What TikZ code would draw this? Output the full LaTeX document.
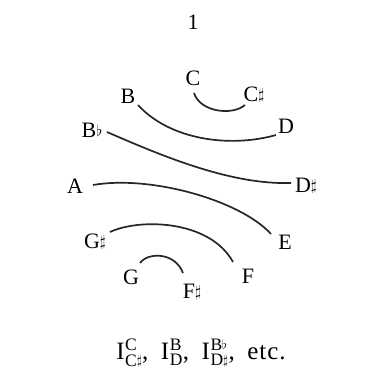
\documentclass[tikz,border=0pt]{standalone}
\usepackage{amsmath,amssymb}
\usepackage{graphicx}
\usepackage{fontspec}
\setmainfont{Liberation Serif}
\usetikzlibrary{calc}
\newcommand{\shrp}{\raisebox{0.2ex}{\scalebox{0.75}{$\sharp$}}}
\newcommand{\flt}{\raisebox{0.1ex}{\scalebox{0.75}{$\flat$}}}
\newcommand{\inv}[2]{I\kern0.5pt$^{\text{#1}}_{\text{#2}}$}

\begin{document}
\begin{tikzpicture}[
        x=1pt, y=-1pt,
        every node/.style={font=\fontsize{22}{26}\selectfont, inner sep=1pt},
        note/.style={},
        pair/.style={line width=1.7pt, black!85}
    ]
        \useasboundingbox (0,0) rectangle (381,380);
        \node (title) at (193,22) {1};

        % notes round the circle
        \node[note] (C)  at (193,78)  {C};
        \node[note] (Cs) at (254,95)  {C\shrp};
        \node[note] (B)  at (128,96)  {B};
        \node[note] (D)  at (286,126) {D};
        \node[note] (Bb) at (92,130)  {B\flt};
        \node[note] (Ds) at (306,186) {D\shrp};
        \node[note] (A)  at (75,186)  {A};
        \node[note] (E)  at (285,242) {E};
        \node[note] (Gs) at (95,242)  {G\shrp};
        \node[note] (F)  at (248,276) {F};
        \node[note] (G)  at (131,277) {G};
        \node[note] (Fs) at (192,292) {F\shrp};

        % inversion pairs
        \draw[pair] ($(C)+(1,15)$) .. controls (200,112) and (232,116) .. ($(Cs)+(-9,10)$);
        \draw[pair] ($(B)+(10,9)$) .. controls (170,140) and (230,148) .. ($(D)+(-10,9)$);
        \draw[pair] ($(Bb)+(15,2)$) .. controls (160,155) and (230,185) .. ($(Ds)+(-15,-3)$);
        \draw[pair] ($(A)+(18,-1)$) .. controls (150,175) and (240,200) .. ($(E)+(-14,-8)$);
        \draw[pair] ($(Gs)+(15,-10)$) .. controls (140,218) and (210,220) .. ($(F)+(-15,-14)$);
        \draw[pair] ($(G)+(9,-14)$) .. controls (148,252) and (175,252) .. ($(Fs)+(-9,-19)$);

        \node[font=\fontsize{25}{29}\selectfont] (caption) at (201,353)
            {\inv{C}{C\shrp},\enspace\inv{B}{D},\enspace\inv{B\flt}{D\shrp},\enspace e\kern1pt t\kern1pt c\kern1pt.};
    \end{tikzpicture}
\end{document}
